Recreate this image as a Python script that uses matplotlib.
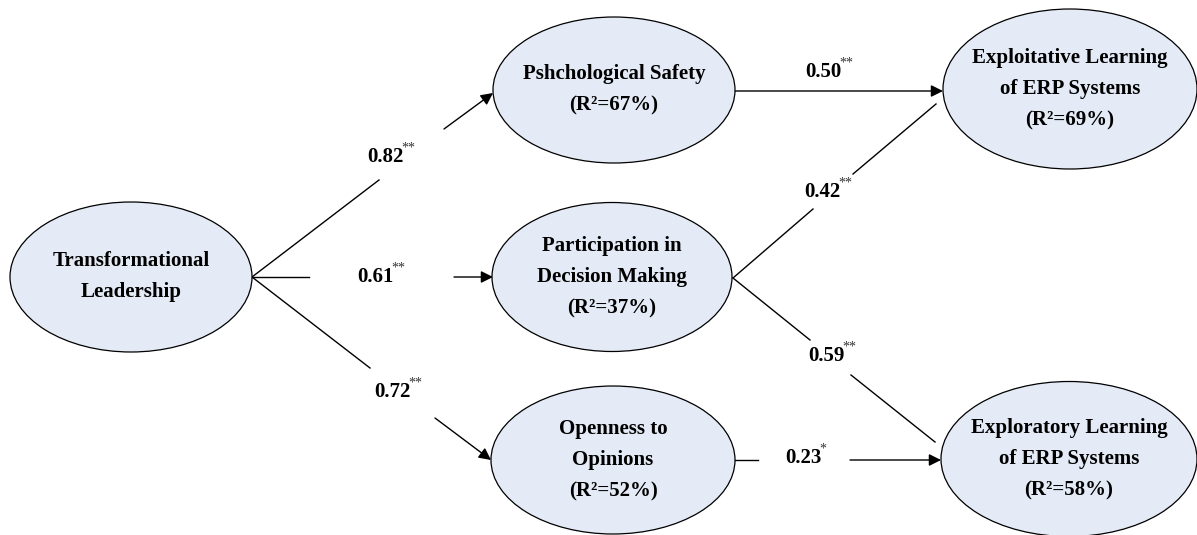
import matplotlib.pyplot as plt
from matplotlib.patches import Ellipse

# node texts and explained variance
node_lines = {
    "TL": ["Transformational", "Leadership"],
    "PS": ["Pshchological Safety"],
    "PD": ["Participation in", "Decision Making"],
    "OO": ["Openness to", "Opinions"],
    "EL": ["Exploitative Learning", "of ERP Systems"],
    "ER": ["Exploratory Learning", "of ERP Systems"],
}
r_squared = {"TL": None, "PS": 67, "PD": 37, "OO": 52, "EL": 69, "ER": 58}

# paths: (from, to, coefficient, significance stars)
path_from = ["TL", "TL", "TL", "PS", "PD", "PD", "OO"]
path_to = ["PS", "PD", "OO", "EL", "EL", "ER", "ER"]
path_coef = [0.82, 0.61, 0.72, 0.50, 0.42, 0.59, 0.23]
path_sig = ["**", "**", "**", "**", "**", "**", "*"]

# layout in pixel coordinates (y down)
node_box = {
    "TL": (131, 277, 242, 150),
    "PS": (614, 90, 242, 146),
    "PD": (612, 277, 240, 149),
    "OO": (613, 460, 244, 148),
    "EL": (1070, 89, 254, 160),
    "ER": (1069, 459, 256, 155),
}
# start, gap start, gap end, end, arrowhead, label position
edge_geom = [
    ((252, 277), (379, 180), (444, 129), (493, 93), True, (385, 157)),
    ((252, 277), (309, 277), (454, 277), (493, 277), True, (375, 277)),
    ((252, 277), (370, 368), (435, 418), (491, 460), True, (392, 392)),
    ((735, 91), None, None, (943, 91), True, (823, 72)),
    ((733, 278), (813, 209), (853, 174), (936, 104), False, (822, 192)),
    ((733, 278), (810, 340), (851, 375), (935, 442), False, (826, 356)),
    ((735, 460), (758, 460), (850, 460), (941, 460), True, (803, 458)),
]

FILL = "#E4EBF6"
FONT = "Liberation Serif"
FS = 15
LINE_GAP = 31

fig = plt.figure(figsize=(11.97, 5.35), dpi=100)
ax = fig.add_axes([0, 0, 1, 1])
ax.set_xlim(0, 1197)
ax.set_ylim(535, 0)
ax.axis("off")

for key, (cx, cy, w, h) in node_box.items():
    ax.add_patch(Ellipse((cx, cy), w, h, facecolor=FILL, edgecolor="black", lw=0.9, zorder=2))
    lines = list(node_lines[key])
    if r_squared[key] is not None:
        lines.append("(R\u00b2=%d%%)" % r_squared[key])
    n = len(lines)
    for i, s in enumerate(lines):
        y = cy + (i - (n - 1) / 2) * LINE_GAP
        ax.text(cx, y, s, ha="center", va="center", fontsize=FS, fontweight="bold",
                family=FONT, zorder=3)


def seg(p, q, head):
    if head:
        ax.annotate("", xy=q, xytext=p,
                    arrowprops=dict(arrowstyle="-|>", color="black", lw=1.0,
                                    mutation_scale=18, shrinkA=0, shrinkB=0),
                    zorder=1)
    else:
        ax.plot([p[0], q[0]], [p[1], q[1]], color="black", lw=1.0, zorder=1)


for coef, sig, (p0, g0, g1, p1, head, lab) in zip(path_coef, path_sig, edge_geom):
    if g0 is None:
        seg(p0, p1, head)
    else:
        seg(p0, g0, False)
        seg(g1, p1, head)
    t = ax.text(lab[0], lab[1], "%.2f" % coef, ha="center", va="center", fontsize=FS,
                fontweight="bold", family=FONT)
    ax.annotate(sig, xy=(1, 0.95), xycoords=t, xytext=(-1, 0), textcoords="offset points",
                ha="left", va="center", fontsize=10, family=FONT,
                color="#333333")

fig.savefig("out.png", dpi=100)
